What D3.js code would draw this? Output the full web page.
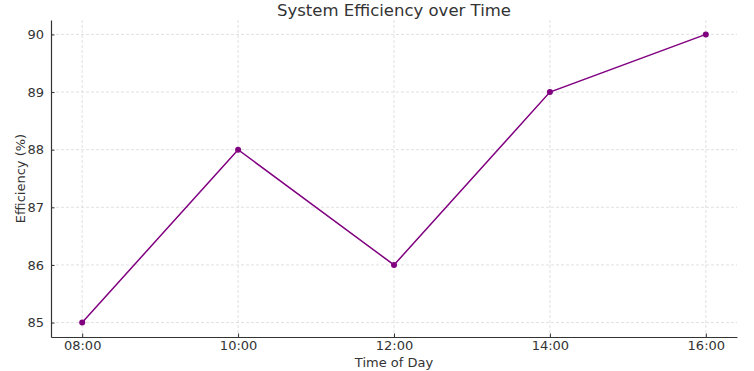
<!DOCTYPE html>
<html>
<head>
<meta charset="utf-8">
<script src="https://cdn.jsdelivr.net/npm/d3@7"></script>
<style>
  body { margin: 0; background: #fff; }
  text { font-family: "DejaVu Sans", sans-serif; fill: #333; }
  .grid line { stroke: #d9d9d9; stroke-dasharray: 3,2; stroke-width: 0.8; }
  .axis path, .axis line { stroke: #333; }
</style>
</head>
<body>
<div id="chart"></div>
<script>
// data
var times = ["08:00", "10:00", "12:00", "14:00", "16:00"]
var hours = [8, 10, 12, 14, 16]
var efficiency = [85, 88, 86, 89, 90]
var yTicks = [85, 86, 87, 88, 89, 90]

var width = 754, height = 371
var margin = {left: 51, top: 20, right: 17, bottom: 34}
var plotW = width - margin.left - margin.right
var plotH = height - margin.top - margin.bottom

var x = d3.scaleLinear().domain([7.6, 16.4]).range([0, plotW])
var y = d3.scaleLinear().domain([84.75, 90.25]).range([plotH, 0])

var svg = d3.select("#chart")
    .append("svg")
      .attr("width", width)
      .attr("height", height)

var g = svg.append("g")
    .attr("transform", "translate(" + margin.left + "," + margin.top + ")")

// grid
g.append("g")
    .classed("grid", true)
  .selectAll("line")
  .data(hours)
  .join("line")
    .attr("x1", d => x(d)).attr("x2", d => x(d))
    .attr("y1", 0).attr("y2", plotH)

g.append("g")
    .classed("grid", true)
  .selectAll("line")
  .data(yTicks)
  .join("line")
    .attr("x1", 0).attr("x2", plotW)
    .attr("y1", d => y(d)).attr("y2", d => y(d))

// axes
var xAxis = d3.axisBottom(x)
    .tickValues(hours)
    .tickFormat((d, i) => times[i])
    .tickSizeInner(-3.5)
    .tickSizeOuter(0)
    .tickPadding(4)

var yAxis = d3.axisLeft(y)
    .tickValues(yTicks)
    .tickFormat(d3.format("d"))
    .tickSizeInner(-3.5)
    .tickSizeOuter(0)
    .tickPadding(7)

g.append("g")
    .classed("axis", true)
    .attr("transform", "translate(0," + plotH + ")")
    .call(xAxis)
    .call(a => a.selectAll("text").style("font-size", "13px").style("fill", "#333"))

g.append("g")
    .classed("axis", true)
    .call(yAxis)
    .call(a => a.selectAll("text").style("font-size", "13px").style("fill", "#333"))

g.selectAll(".axis path").attr("stroke-width", 1.2)

// line
var line = d3.line()
    .x((d, i) => x(hours[i]))
    .y(d => y(d))

g.append("path")
    .datum(efficiency)
    .attr("fill", "none")
    .attr("stroke", "#800080")
    .attr("stroke-width", 1.5)
    .attr("d", line)

g.selectAll("circle")
  .data(efficiency)
  .join("circle")
    .attr("cx", (d, i) => x(hours[i]))
    .attr("cy", d => y(d))
    .attr("r", 3)
    .attr("fill", "#800080")

// labels
svg.append("text")
    .attr("x", margin.left + plotW / 2)
    .attr("y", 16)
    .attr("text-anchor", "middle")
    .style("font-size", "16.5px")
    .text("System Efficiency over Time")

svg.append("text")
    .attr("x", margin.left + plotW / 2)
    .attr("y", 367)
    .attr("text-anchor", "middle")
    .style("font-size", "13px")
    .text("Time of Day")

svg.append("text")
    .attr("transform", "rotate(-90)")
    .attr("x", -(margin.top + plotH / 2))
    .attr("y", 25)
    .attr("text-anchor", "middle")
    .style("font-size", "13px")
    .text("Efficiency (%)")
</script>
</body>
</html>
